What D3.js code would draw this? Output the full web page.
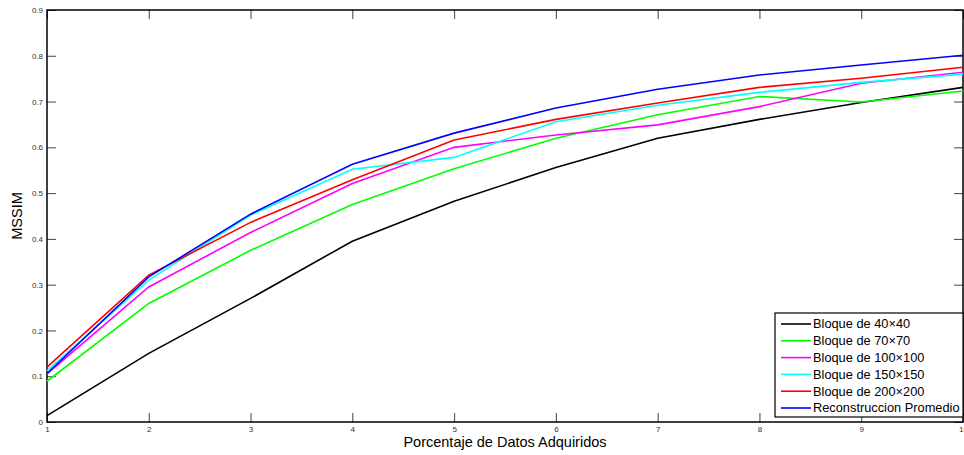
<!DOCTYPE html>
<html>
<head>
<meta charset="utf-8">
<script src="https://cdn.jsdelivr.net/npm/d3@7"></script>
<style>
  body { margin: 0; background: #fff; }
  svg text { font-family: "Liberation Sans", Arial, sans-serif; }
</style>
</head>
<body>
<div id="chart"></div>
<script>
// datos
var porcentajes = [1, 2, 3, 4, 5, 6, 7, 8, 9, 10];
var bloque40  = [0.014, 0.150, 0.270, 0.395, 0.482, 0.556, 0.620, 0.661, 0.698, 0.731];
var bloque70  = [0.089, 0.259, 0.375, 0.475, 0.553, 0.620, 0.671, 0.711, 0.699, 0.723];
var bloque100 = [0.105, 0.295, 0.414, 0.521, 0.600, 0.627, 0.649, 0.689, 0.740, 0.764];
var bloque150 = [0.112, 0.310, 0.452, 0.552, 0.578, 0.656, 0.692, 0.720, 0.742, 0.760];
var bloque200 = [0.120, 0.321, 0.436, 0.529, 0.616, 0.661, 0.697, 0.731, 0.751, 0.775];
var promedio  = [0.106, 0.317, 0.454, 0.563, 0.631, 0.686, 0.727, 0.758, 0.780, 0.801];
var nombres = ["Bloque de 40\u00d740", "Bloque de 70\u00d770", "Bloque de 100\u00d7100",
               "Bloque de 150\u00d7150", "Bloque de 200\u00d7200", "Reconstruccion Promedio"];
var colores = ["#000000", "#00ff00", "#ff00ff", "#00ffff", "#ff0000", "#0000ff"];
var xTicks = [1, 2, 3, 4, 5, 6, 7, 8, 9, 10];
var yTicks = [0, 0.1, 0.2, 0.3, 0.4, 0.5, 0.6, 0.7, 0.8, 0.9];

var series = [bloque40, bloque70, bloque100, bloque150, bloque200, promedio];

var width = 964, height = 455;
var mLeft = 47, mRight = 963, mTop = 10, mBottom = 422;

var svg = d3.select("#chart").append("svg")
    .attr("width", width)
    .attr("height", height);

var x = d3.scaleLinear().domain([1, 10]).range([mLeft, mRight]);
var y = d3.scaleLinear().domain([0, 0.9]).range([mBottom, mTop]);

// ejes con ticks hacia dentro
var tickLen = 9;
var fmt = function(d) { return d === 0 ? "0" : d3.format(".1f")(d); };

var gx = svg.append("g").attr("transform", "translate(0," + mBottom + ")")
    .call(d3.axisBottom(x).tickValues(xTicks).tickSizeInner(-tickLen).tickSizeOuter(0).tickPadding(3).tickFormat(d3.format("d")));
var gxTop = svg.append("g").attr("transform", "translate(0," + mTop + ")")
    .call(d3.axisTop(x).tickValues(xTicks).tickSizeInner(-tickLen).tickSizeOuter(0).tickFormat(""));
var gy = svg.append("g").attr("transform", "translate(" + mLeft + ",0)")
    .call(d3.axisLeft(y).tickValues(yTicks).tickSizeInner(-tickLen).tickSizeOuter(0).tickPadding(4).tickFormat(fmt));
var gyRight = svg.append("g").attr("transform", "translate(" + mRight + ",0)")
    .call(d3.axisRight(y).tickValues(yTicks).tickSizeInner(-tickLen).tickSizeOuter(0).tickFormat(""));

[gx, gxTop, gy, gyRight].forEach(function(g) {
  g.select(".domain").remove();
  g.selectAll(".tick line").attr("stroke", "#444").attr("stroke-width", 1);
  g.selectAll("text").attr("font-size", 8).attr("fill", "#333");
});
gx.selectAll("text").attr("dy", "0.9em");

// marco
svg.append("rect")
    .attr("x", mLeft).attr("y", mTop)
    .attr("width", mRight - mLeft).attr("height", mBottom - mTop)
    .attr("fill", "none").attr("stroke", "#000").attr("stroke-width", 1.5);

// lineas
var linea = d3.line()
    .x(function(d, i) { return x(porcentajes[i]); })
    .y(function(d) { return y(d); });

svg.append("g").selectAll("path")
    .data(series)
    .enter()
    .append("path")
    .attr("d", linea)
    .attr("fill", "none")
    .attr("stroke", function(d, i) { return colores[i]; })
    .attr("stroke-width", 1.6);

// leyenda
var leg = svg.append("g").attr("transform", "translate(775,313)");
leg.append("rect")
    .attr("x", 0).attr("y", 0)
    .attr("width", 188).attr("height", 104)
    .attr("fill", "#fff").attr("stroke", "#000").attr("stroke-width", 1.2);
var items = leg.selectAll(".item")
    .data(nombres)
    .enter()
    .append("g")
    .attr("class", "item")
    .attr("transform", function(d, i) { return "translate(0," + (11 + i * 16.8) + ")"; });
items.append("line")
    .attr("x1", 6).attr("x2", 36)
    .attr("stroke", function(d, i) { return colores[i]; })
    .attr("stroke-width", 1.6);
items.append("text")
    .attr("x", 38).attr("dy", "0.35em")
    .attr("font-size", 12.8)
    .attr("fill", "#000")
    .text(function(d) { return d; });

// titulos de ejes
svg.append("text")
    .attr("x", (mLeft + mRight) / 2).attr("y", 447)
    .attr("text-anchor", "middle")
    .attr("font-size", 14.5)
    .text("Porcentaje de Datos Adquiridos");
svg.append("text")
    .attr("transform", "translate(22," + ((mTop + mBottom) / 2) + ") rotate(-90)")
    .attr("text-anchor", "middle")
    .attr("font-size", 14.5)
    .text("MSSIM");
</script>
</body>
</html>
